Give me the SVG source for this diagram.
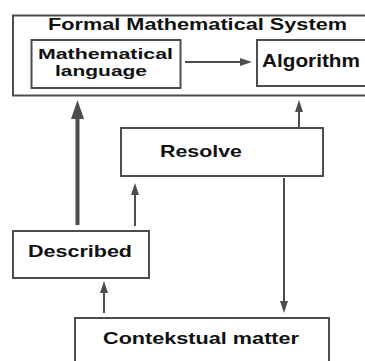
<svg xmlns="http://www.w3.org/2000/svg" width="365" height="361" viewBox="0 0 365 361">
<defs>
<style>
.box{fill:#fff;stroke:#4d4d4d;stroke-width:2}
.lbl{font-family:"Liberation Sans",Arial,sans-serif;font-weight:bold;fill:#111}
.ln{stroke:#4d4d4d;stroke-width:2;fill:none}
.thick{stroke:#4d4d4d;stroke-width:4;fill:none}
</style>
<marker id="ah" markerUnits="userSpaceOnUse" markerWidth="12" markerHeight="8" refX="0" refY="4" orient="auto">
<path d="M0,0 L12,4 L0,8 Z" fill="#4d4d4d"/>
</marker>
<marker id="ahBig" markerUnits="userSpaceOnUse" markerWidth="19" markerHeight="13" refX="0" refY="6.5" orient="auto">
<path d="M0,0 L19,6.5 L0,13 Z" fill="#4d4d4d"/>
</marker>
</defs>
<rect width="365" height="361" fill="#fff"/>
<g id="formal-system">
<rect class="box" x="13" y="15.5" width="354" height="80"/>
<text class="lbl" x="48" y="30" font-size="16.5" textLength="299" lengthAdjust="spacingAndGlyphs">Formal Mathematical System</text>
</g>
<g id="math-language">
<rect class="box" x="31.5" y="40" width="149" height="48"/>
<text class="lbl" x="38" y="58.5" font-size="15.5" textLength="135" lengthAdjust="spacingAndGlyphs">Mathematical</text>
<text class="lbl" x="55" y="75.5" font-size="15.5" textLength="92" lengthAdjust="spacingAndGlyphs">language</text>
</g>
<g id="algorithm">
<rect class="box" x="257" y="40" width="112" height="46"/>
<text class="lbl" x="262" y="67" font-size="17.5" textLength="98" lengthAdjust="spacingAndGlyphs">Algorithm</text>
</g>
<g id="resolve">
<rect class="box" x="121" y="128" width="202" height="48"/>
<text class="lbl" x="160" y="157" font-size="16.5" textLength="82" lengthAdjust="spacingAndGlyphs">Resolve</text>
</g>
<g id="described">
<rect class="box" x="13" y="231" width="136" height="47"/>
<text class="lbl" x="28" y="257" font-size="16.5" textLength="104" lengthAdjust="spacingAndGlyphs">Described</text>
</g>
<g id="contekstual">
<rect class="box" x="75" y="318" width="254" height="50"/>
<text class="lbl" x="103" y="344" font-size="16.5" textLength="196" lengthAdjust="spacingAndGlyphs">Contekstual matter</text>
</g>
<g id="connectors">
<line class="ln" x1="185" y1="62" x2="240" y2="62" marker-end="url(#ah)"/>
<line class="thick" x1="77.5" y1="225" x2="77.5" y2="119" marker-end="url(#ahBig)"/>
<line class="ln" x1="299" y1="127" x2="299" y2="112" marker-end="url(#ah)"/>
<line class="ln" x1="135" y1="226" x2="135" y2="195" marker-end="url(#ah)"/>
<line class="ln" x1="284" y1="178" x2="284" y2="301" marker-end="url(#ah)"/>
<line class="ln" x1="104" y1="313" x2="104" y2="293" marker-end="url(#ah)"/>
</g>
</svg>
